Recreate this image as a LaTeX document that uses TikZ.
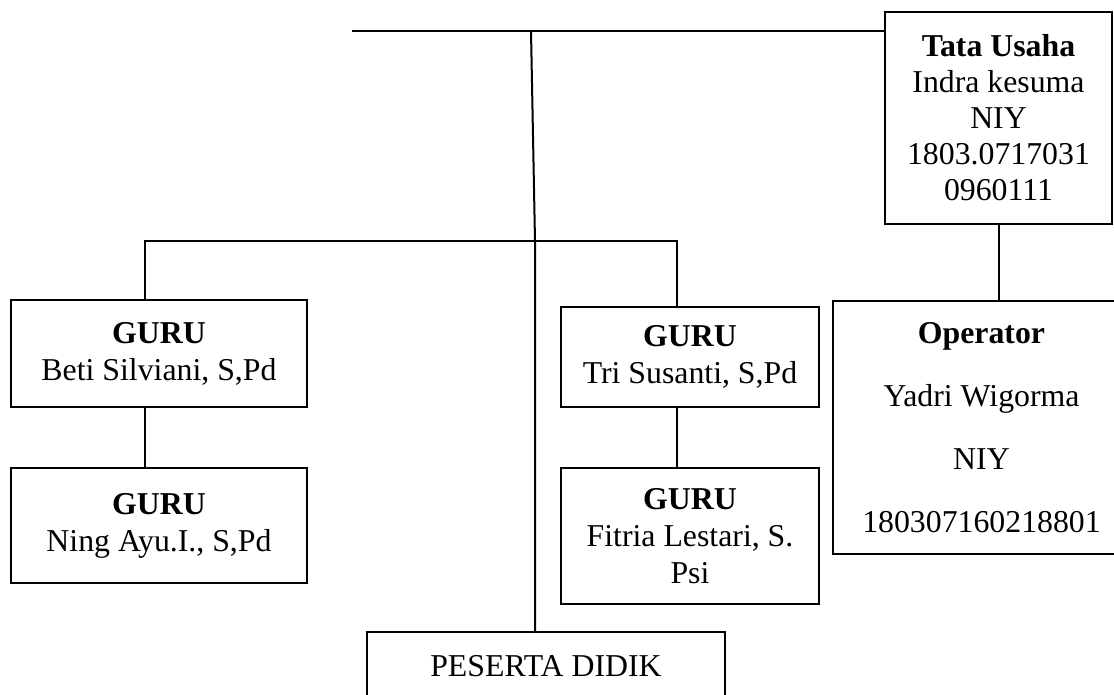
\documentclass[tikz,border=0pt]{standalone}
\usepackage{fontspec}
\setmainfont{Liberation Serif}
\usetikzlibrary{positioning, calc}
\tikzset{
    orgbox/.style={rectangle, draw, line width=2pt, align=center, inner sep=0pt, font=\fontsize{31.8}{37}\selectfont},
    link/.style={line width=2pt}
}

\begin{document}
\begin{tikzpicture}[x=1pt, y=-1pt]
        \useasboundingbox (0,0) rectangle (1114,694);
        \node[orgbox, minimum width=296pt, minimum height=107pt] (guru1) at (159,353.5) {\textbf{GURU}\\Beti Silviani, S,Pd};
        \node[orgbox, minimum width=296pt, minimum height=115pt] (guru2) at (159,525.5) {\textbf{GURU}\\Ning Ayu.I., S,Pd};
        \node[orgbox, minimum width=258pt, minimum height=100pt] (guru3) at (690,357) {\textbf{GURU}\\Tri Susanti, S,Pd};
        \node[orgbox, minimum width=258pt, minimum height=136pt] (guru4) at (690,536) {\textbf{GURU}\\Fitria Lestari, S.\\Psi};
        \node[orgbox, minimum width=227pt, minimum height=212pt, font=\fontsize{31.8}{36}\selectfont] (tata) at (998.5,118) {\textbf{Tata Usaha}\\Indra kesuma\\NIY\\1803.0717031\\0960111};
        \node[orgbox, minimum width=297pt, minimum height=253pt, font=\fontsize{31.8}{63}\selectfont] (op) at (981.5,427.5) {\textbf{Operator}\\Yadri Wigorma\\NIY\\180307160218801};
        \node[orgbox, minimum width=358pt, minimum height=68pt] (peserta) at (546,666) {PESERTA DIDIK};
        \coordinate (topend) at (352,31);
        \coordinate (trunktop) at (531,31);
        \coordinate (fork) at (535,241);
        \coordinate (jl) at (145,241);
        \coordinate (jr) at (677,241);
        \draw[link] (topend) -- (topend -| tata.west);
        \draw[link] (trunktop) -- (fork) -- (fork |- peserta.north);
        \draw[link] (guru1.north -| jl) -- (jl) -- (jr) -- (guru3.north -| jr);
        \draw[link] (guru1.south -| jl) -- (guru2.north -| jl);
        \draw[link] (guru3.south -| jr) -- (guru4.north -| jr);
        \draw[link] (tata.south) -- (tata.south |- op.north);
    \end{tikzpicture}
\end{document}
